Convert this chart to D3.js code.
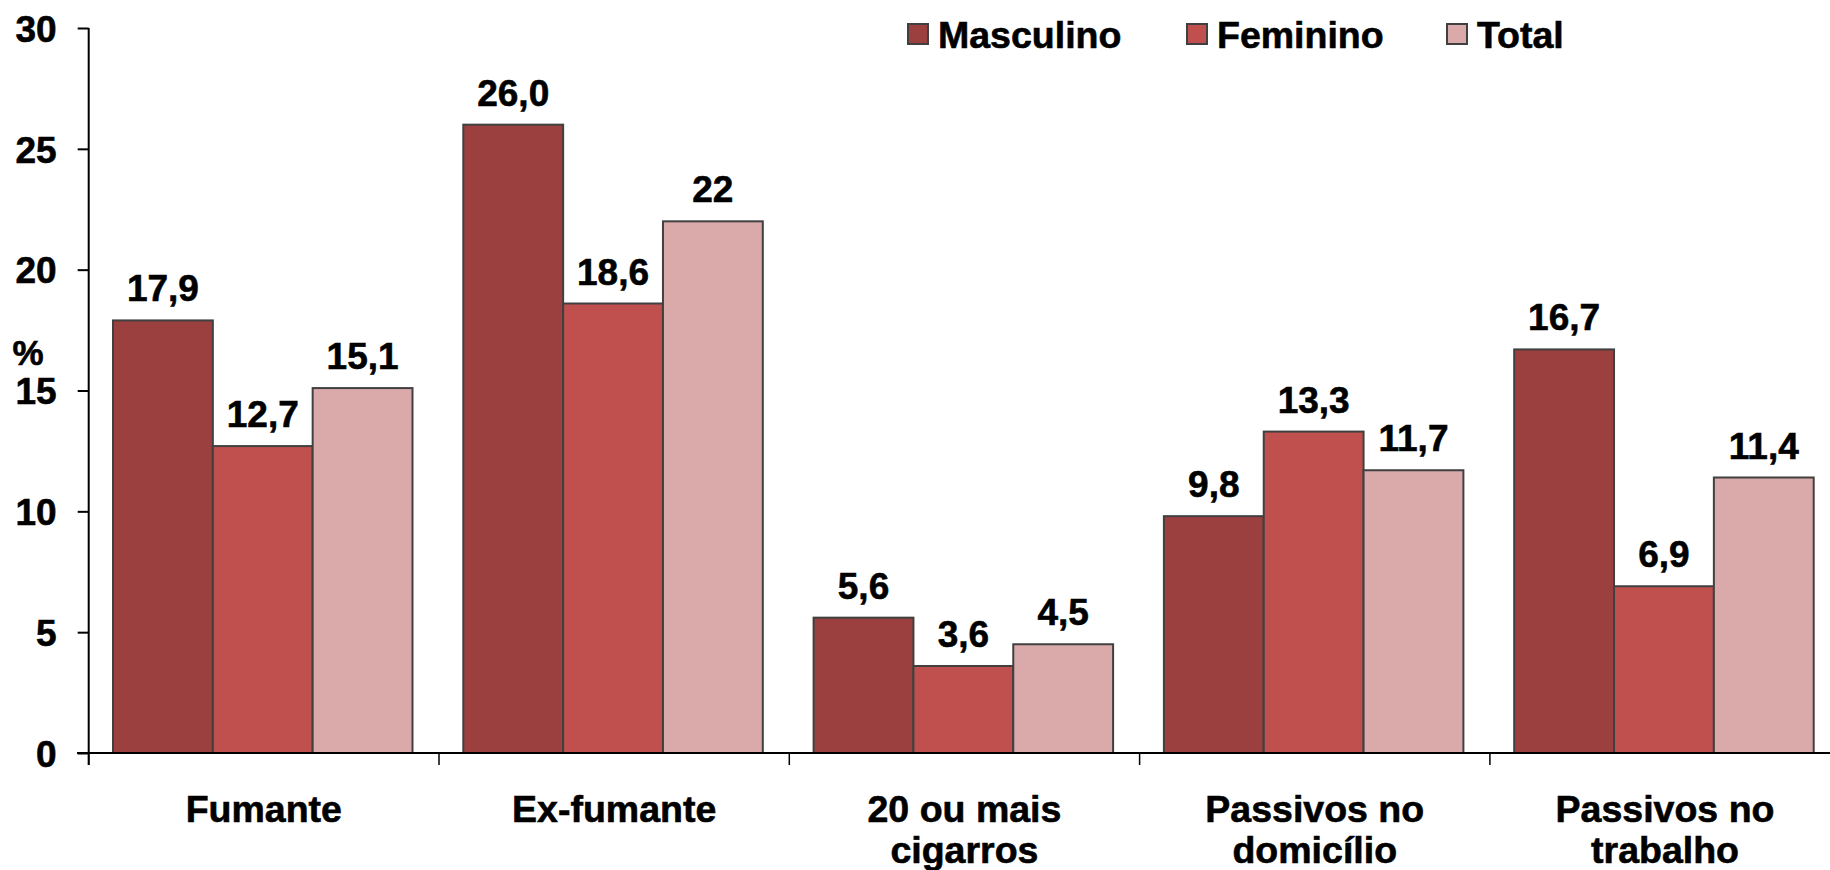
<!DOCTYPE html>
<html>
<head>
<meta charset="utf-8">
<script src="https://cdn.jsdelivr.net/npm/d3@7"></script>
<style>
  html, body { margin: 0; padding: 0; background: #fff; }
  svg { display: block; font-family: "Liberation Sans", Arial, sans-serif; font-weight: bold; }
  svg text { stroke: #000; stroke-width: 0.6px; }
</style>
</head>
<body>
<svg id="chart" width="1830" height="870"></svg>
<script>
const categories = [["Fumante"], ["Ex-fumante"], ["20 ou mais", "cigarros"], ["Passivos no", "domicílio"], ["Passivos no", "trabalho"]];
const seriesNames = ["Masculino", "Feminino", "Total"];
const masculino = [17.9, 26.0, 5.6, 9.8, 16.7];
const feminino = [12.7, 18.6, 3.6, 13.3, 6.9];
const total = [15.1, 22, 4.5, 11.7, 11.4];
const masculinoLabels = ["17,9", "26,0", "5,6", "9,8", "16,7"];
const femininoLabels = ["12,7", "18,6", "3,6", "13,3", "6,9"];
const totalLabels = ["15,1", "22", "4,5", "11,7", "11,4"];
const yTicks = [0, 5, 10, 15, 20, 25, 30];
const colors = ["#9C403F", "#C0504E", "#DAAAAA"];

const seriesValues = [masculino, feminino, total];
const seriesLabels = [masculinoLabels, femininoLabels, totalLabels];

const svg = d3.select("#chart");
const x0Left = 88.7, step = 350.3;
const catKeys = categories.map((c, i) => i);
const x0 = d3.scaleBand().domain(catKeys).range([x0Left, x0Left + step * categories.length]).padding(0);
const x1 = d3.scaleBand().domain(seriesNames).range([24.3, 323.8]).padding(0);
const y = d3.scaleLinear().domain([0, 30]).range([753, 28]);

// Y axis
const yAxis = svg.append("g").attr("transform", `translate(${x0Left},0)`)
  .call(d3.axisLeft(y).tickValues(yTicks).tickSize(11).tickPadding(21).tickFormat(d3.format("d")));
yAxis.select(".domain").attr("stroke", "#000").attr("stroke-width", 2).attr("d", `M0,${y(30)}V765`);
yAxis.selectAll(".tick line").attr("stroke", "#000").attr("stroke-width", 2);
yAxis.selectAll(".tick text").attr("font-size", 37).attr("font-weight", "bold").attr("fill", "#000")
  .attr("font-family", "'Liberation Sans', Arial, sans-serif").attr("dy", "0.36em");

svg.append("text").attr("x", 28).attr("y", 365).attr("text-anchor", "middle")
  .attr("font-size", 35).attr("fill", "#000").text("%");

// Bars
const groups = svg.append("g").selectAll("g").data(catKeys).join("g")
  .attr("transform", d => `translate(${x0(d)},0)`);
groups.selectAll("rect").data(i => seriesNames.map((s, k) => ({ s, k, v: seriesValues[k][i] })))
  .join("rect")
  .attr("x", d => x1(d.s)).attr("width", x1.bandwidth())
  .attr("y", d => y(d.v)).attr("height", d => y(0) - y(d.v))
  .attr("fill", d => colors[d.k]).attr("stroke", "#404040").attr("stroke-width", 2);
groups.selectAll("text.val").data(i => seriesNames.map((s, k) => ({ s, k, v: seriesValues[k][i], l: seriesLabels[k][i] })))
  .join("text").attr("class", "val")
  .attr("x", d => x1(d.s) + x1.bandwidth() / 2).attr("y", d => y(d.v) - 19)
  .attr("text-anchor", "middle").attr("font-size", 37).attr("fill", "#000").text(d => d.l);

// X axis
const xAxis = svg.append("g").attr("transform", `translate(0,${y(0)})`);
xAxis.append("line").attr("x1", 77).attr("x2", 1830).attr("y1", 0).attr("y2", 0)
  .attr("stroke", "#000").attr("stroke-width", 2);
xAxis.selectAll("line.tk").data(catKeys.concat([categories.length])).join("line").attr("class", "tk")
  .attr("x1", d => x0Left + d * step).attr("x2", d => x0Left + d * step)
  .attr("y1", 0).attr("y2", 12).attr("stroke", "#000").attr("stroke-width", 1.5);

const catText = svg.append("g").selectAll("text").data(catKeys).join("text")
  .attr("x", d => x0(d) + x0.bandwidth() / 2).attr("y", 822)
  .attr("text-anchor", "middle").attr("font-size", 37.5).attr("fill", "#000");
catText.selectAll("tspan").data(i => categories[i]).join("tspan")
  .attr("x", function() { return d3.select(this.parentNode).attr("x"); })
  .attr("dy", (d, j) => j === 0 ? 0 : 41).text(d => d);

// Legend
const legendX = [908, 1187, 1447];
const legend = svg.append("g").selectAll("g").data(seriesNames).join("g")
  .attr("transform", (d, i) => `translate(${legendX[i]},0)`);
legend.append("rect").attr("x", 0).attr("y", 24).attr("width", 20).attr("height", 20)
  .attr("fill", (d, i) => colors[i]).attr("stroke", "#404040").attr("stroke-width", 2);
legend.append("text").attr("x", 30).attr("y", 47.5).attr("font-size", 37.5).attr("fill", "#000").text(d => d);
</script>
</body>
</html>
